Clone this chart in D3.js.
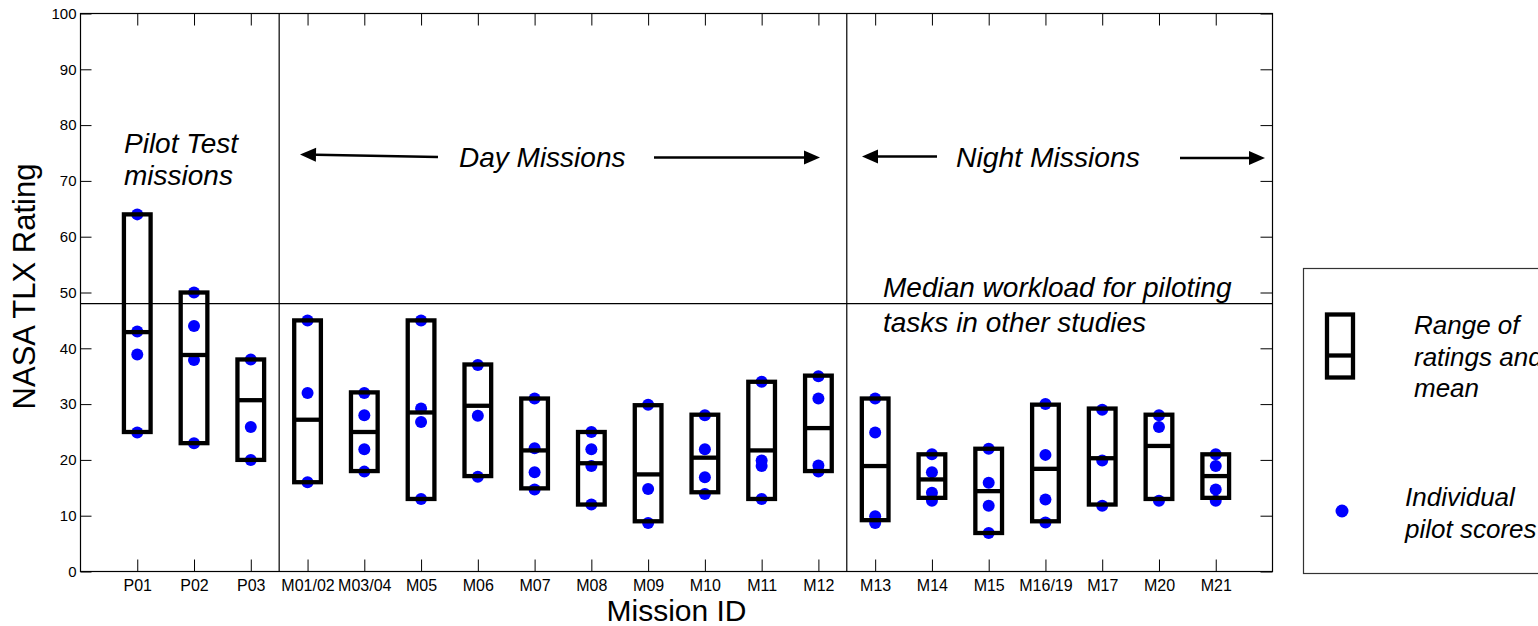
<!DOCTYPE html>
<html>
<head>
<meta charset="utf-8">
<script src="https://cdn.jsdelivr.net/npm/d3@7/dist/d3.min.js"></script>
<style>
  html, body { margin: 0; padding: 0; background: #fff; }
  svg { display: block; font-family: "Liberation Sans", Arial, Helvetica, sans-serif; }
</style>
</head>
<body>
<svg id="chart" width="1538" height="626"></svg>
<script>
// ---------------- DATA ----------------
const categories = ["P01","P02","P03","M01/02","M03/04","M05","M06","M07","M08","M09","M10",
                    "M11","M12","M13","M14","M15","M16/19","M17","M20","M21"];
const rangeHigh = [64, 50, 38, 45, 32.1, 45, 37.1, 31, 25, 29.8, 28.1, 34, 35.1, 31, 21, 22, 29.9, 29.2, 28.1, 21];
const rangeLow  = [25, 23, 20, 16, 18, 13, 17.1, 14.9, 12, 9, 14.2, 13, 18, 9.2, 13.2, 6.9, 9, 12, 13, 13.2];
const means     = [42.9, 38.8, 30.7, 27.2, 25.0, 28.5, 29.7, 21.7, 19.4, 17.4, 20.4, 21.7, 25.7,
                   18.9, 16.5, 14.4, 18.4, 20.3, 22.5, 17.1];
const pilotScores = [
  [64, 43, 38.9, 24.9], [50, 44, 37.9, 23], [38, 25.9, 20],
  [45, 32, 16], [32, 28, 21.9, 17.9], [45, 29.2, 26.8, 13], [37, 27.9, 17],
  [31, 22.1, 17.8, 14.7], [25, 21.9, 18.9, 12], [29.9, 14.8, 8.7], [28, 21.9, 16.9, 13.9],
  [34, 19.9, 18.9, 13], [35, 31, 19, 17.9],
  [31, 24.9, 9.9, 8.7], [21, 17.8, 14.1, 12.7], [22, 15.9, 11.8, 6.9], [30, 20.9, 12.9, 8.8],
  [29, 19.9, 11.8], [28, 25.9, 12.7], [21, 18.9, 14.7, 12.7]
];
const yTicks = [0, 10, 20, 30, 40, 50, 60, 70, 80, 90, 100];
const medianWorkload = 48;
const groupDividers = [3.5, 13.5];   // between P03|M01/02 and M12|M13

// ---------------- LAYOUT ----------------
const svg = d3.select("#chart");
const pLeft = 80.5, pRight = 1272.5, pTop = 13.5, pBottom = 571.5;
const x = d3.scaleLinear().domain([0, 21]).range([pLeft, pRight]);
const y = d3.scaleLinear().domain([0, 100]).range([pBottom, pTop]);
const idx = categories.map((c, i) => i + 1);
const boxHalf = 0.235;

// frame
svg.append("rect").attr("x", pLeft).attr("y", pTop)
  .attr("width", pRight - pLeft).attr("height", pBottom - pTop)
  .attr("fill", "none").attr("stroke", "#000").attr("stroke-width", 1.2);

// axes (ticks inward)
const xTickFmt = i => categories[i - 1];
svg.append("g").attr("transform", `translate(0,${pBottom})`)
  .call(d3.axisBottom(x).tickValues(idx).tickFormat(xTickFmt).tickSizeInner(-12).tickSizeOuter(0).tickPadding(8))
  .call(g => g.select(".domain").remove())
  .call(g => g.selectAll("line").attr("stroke", "#000").attr("stroke-width", 1))
  .call(g => g.selectAll("text").attr("font-size", 16).attr("fill", "#000").attr("font-family", null));
svg.append("g").attr("transform", `translate(0,${pTop})`)
  .call(d3.axisTop(x).tickValues(idx).tickFormat("").tickSizeInner(-12).tickSizeOuter(0))
  .call(g => g.select(".domain").remove())
  .call(g => g.selectAll("line").attr("stroke", "#000"));
svg.append("g").attr("transform", `translate(${pLeft},0)`)
  .call(d3.axisLeft(y).tickValues(yTicks).tickSizeInner(-11).tickSizeOuter(0).tickPadding(4))
  .call(g => g.select(".domain").remove())
  .call(g => g.selectAll("line").attr("stroke", "#000"))
  .call(g => g.selectAll("text").attr("font-size", 15).attr("fill", "#000").attr("font-family", null));
svg.append("g").attr("transform", `translate(${pRight},0)`)
  .call(d3.axisRight(y).tickValues(yTicks).tickFormat("").tickSizeInner(-12).tickSizeOuter(0))
  .call(g => g.select(".domain").remove())
  .call(g => g.selectAll("line").attr("stroke", "#000"));

// group dividers
svg.selectAll("line.divider").data(groupDividers).enter().append("line")
  .attr("class", "divider")
  .attr("x1", d => x(d)).attr("x2", d => x(d)).attr("y1", pTop).attr("y2", pBottom)
  .attr("stroke", "#000").attr("stroke-width", 1.2);

// median workload line
svg.append("line").attr("x1", pLeft).attr("x2", pRight)
  .attr("y1", y(medianWorkload)).attr("y2", y(medianWorkload))
  .attr("stroke", "#000").attr("stroke-width", 1.2);

// points (drawn beneath boxes)
const pts = [];
pilotScores.forEach((arr, i) => arr.forEach(v => pts.push({ i: i + 1, v })));
svg.append("g").selectAll("circle").data(pts).enter().append("circle")
  .attr("cx", d => x(d.i)).attr("cy", d => y(d.v)).attr("r", 6)
  .attr("fill", "#0000ff");

// boxes
const boxes = svg.append("g");
categories.forEach((c, k) => {
  const i = k + 1;
  boxes.append("rect")
    .attr("x", x(i - boxHalf)).attr("y", y(rangeHigh[k]))
    .attr("width", x(i + boxHalf) - x(i - boxHalf))
    .attr("height", y(rangeLow[k]) - y(rangeHigh[k]))
    .attr("fill", "none").attr("stroke", "#000").attr("stroke-width", 4.3);
  boxes.append("line")
    .attr("x1", x(i - boxHalf)).attr("x2", x(i + boxHalf))
    .attr("y1", y(means[k])).attr("y2", y(means[k]))
    .attr("stroke", "#000").attr("stroke-width", 4.3);
});

// axis titles
svg.append("text").attr("x", x(10.5)).attr("y", 621).attr("text-anchor", "middle")
  .attr("font-size", 30).text("Mission ID");
svg.append("text").attr("transform", `translate(35,${(pTop + pBottom) / 2 - 6}) rotate(-90)`)
  .attr("text-anchor", "middle").attr("font-size", 31).text("NASA TLX Rating");

// annotations
function itext(xp, yp, size, lines, lh) {
  const t = svg.append("text").attr("x", xp).attr("y", yp).attr("font-size", size)
    .attr("font-style", "italic");
  lines.forEach((l, j) => t.append("tspan").attr("x", xp).attr("dy", j === 0 ? 0 : lh).text(l));
}
itext(124, 153, 28, ["Pilot Test", "missions"], 32);
itext(459, 167, 28, ["Day Missions"], 0);
itext(956, 167, 28.3, ["Night Missions"], 0);
itext(883, 297, 28, ["Median workload for piloting", "tasks in other studies"], 35);

function arrow(x1, y1, x2, y2) {
  const a = Math.atan2(y2 - y1, x2 - x1), L = 16, W = 7;
  const bx = x2 - L * Math.cos(a), by = y2 - L * Math.sin(a);
  svg.append("line").attr("x1", x1).attr("y1", y1).attr("x2", bx).attr("y2", by)
    .attr("stroke", "#000").attr("stroke-width", 2.6);
  svg.append("path").attr("d",
    `M${x2},${y2}L${bx - W * Math.sin(a)},${by + W * Math.cos(a)}L${bx + W * Math.sin(a)},${by - W * Math.cos(a)}Z`)
    .attr("fill", "#000");
}
arrow(438, 157, 300, 154.5);
arrow(654, 157.5, 820, 157.5);
arrow(937, 156.5, 862, 156.5);
arrow(1180, 158, 1265, 158);

// legend
svg.append("rect").attr("x", 1303.5).attr("y", 268.5).attr("width", 260).attr("height", 305)
  .attr("fill", "none").attr("stroke", "#333").attr("stroke-width", 1.2);
svg.append("rect").attr("x", 1327).attr("y", 314.5).attr("width", 26).attr("height", 63)
  .attr("fill", "none").attr("stroke", "#000").attr("stroke-width", 4.3);
svg.append("line").attr("x1", 1327).attr("x2", 1353).attr("y1", 355.5).attr("y2", 355.5)
  .attr("stroke", "#000").attr("stroke-width", 4.3);
svg.append("circle").attr("cx", 1342).attr("cy", 511).attr("r", 6.5).attr("fill", "#0000ff");
itext(1414, 334, 26, ["Range of", "ratings and", "mean"], 31.5);
itext(1405, 506, 26, ["Individual", "pilot scores"], 32);
</script>
</body>
</html>
